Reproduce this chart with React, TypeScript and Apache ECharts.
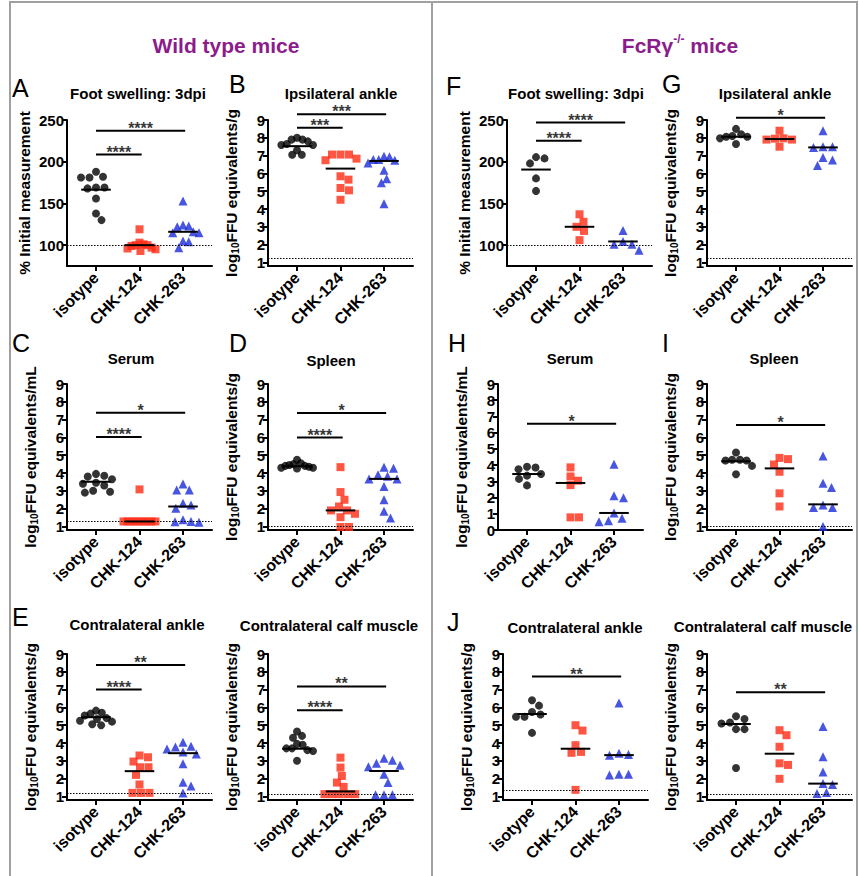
import React, { useEffect, useRef } from "react";
import * as echarts from "echarts";

const FONT = "'Liberation Sans', Arial, Helvetica, sans-serif";
const RED = "#ff2a14";
const BLUE = "#1a2ad8";
const PURPLE = "#8c1b8c";

const categories = ["isotype", "CHK-124", "CHK-263"];
const logTicks = [1, 2, 3, 4, 5, 6, 7, 8, 9];
const logTicksZero = [0, 1, 2, 3, 4, 5, 6, 7, 8, 9];
const pctTicks = [100, 150, 200, 250];

// ---- Wild type mice ----
// A: Foot swelling 3dpi (% initial)
const aIsotype = [188, 181, 181, 182, 169, 168, 169, 156, 138, 130];
const aChk124 = [119, 103, 101, 100, 100, 99, 97, 96, 95, 93];
const aChk263 = [153, 124, 123, 122, 116, 115, 115, 105, 104, 97];
const aMedians = [166.5, 100, 116];
const aSigY = [208.5, 237];
const aSigLabels = ["****", "****"];

// B: Ipsilateral ankle
const bIsotype = [8.0, 7.9, 7.8, 7.9, 7.6, 7.6, 7.65, 7.3, 7.05, 7.05];
const bChk124 = [7.06, 7.06, 7.06, 6.83, 6.74, 5.65, 5.84, 5.18, 5.05, 4.52];
const bChk263 = [6.93, 6.97, 6.78, 6.74, 6.78, 6.59, 6.18, 5.7, 5.48, 4.29];
const bMedians = [7.53, 6.27, 6.7];
const bSigY = [8.57, 9.32];
const bSigLabels = ["***", "***"];

// C: Serum
const cIsotype = [3.95, 3.8, 3.85, 3.65, 3.45, 3.4, 3.3, 3.0, 2.9, 2.95];
const cChk124 = [3.08, 1.28, 1.28, 1.28, 1.28, 1.28, 1.28, 1.28, 1.28, 1.28];
const cChk263 = [3.38, 3.05, 3.05, 2.21, 2.3, 2.02, 1.28, 1.24, 1.26, 1.37];
const cMedians = [3.51, 1.28, 2.12];
const cSigY = [6.02, 7.38];
const cSigLabels = ["****", "*"];

// D: Spleen
const dIsotype = [4.75, 4.55, 4.5, 4.45, 4.4, 4.4, 4.35, 4.3, 4.3, 4.25];
const dChk124 = [4.33, 2.93, 2.5, 2.12, 1.9, 1.9, 1.71, 1.52, 0.97, 0.97];
const dChk263 = [4.33, 4.27, 3.9, 3.82, 3.67, 3.67, 3.25, 2.5, 1.86, 1.47];
const dMedians = [4.38, 1.9, 3.67];
const dSigY = [5.99, 7.37];
const dSigLabels = ["****", "*"];

// E: Contralateral ankle
const eIsotype = [5.82, 5.65, 5.55, 5.7, 5.4, 5.35, 5.25, 5.2, 5.05, 5.0];
const eChk124 = [3.3, 3.2, 2.96, 2.64, 2.64, 2.21, 1.67, 1.2, 1.2, 1.2];
const eChk263 = [4.05, 3.77, 3.82, 3.67, 3.49, 3.39, 2.83, 1.8, 1.58, 1.2];
const eMedians = [5.45, 2.42, 3.43];
const eSigY = [7.0, 8.38];
const eSigLabels = ["****", "**"];

// E (right): Contralateral calf muscle
const e2Isotype = [4.65, 4.4, 4.3, 3.95, 3.9, 3.7, 3.7, 3.6, 3.55, 3.0];
const e2Chk124 = [3.18, 2.62, 2.15, 1.78, 1.54, 1.13, 1.13, 1.13, 1.13, 1.13];
const e2Chk263 = [3.14, 3.03, 2.86, 2.67, 2.75, 2.25, 1.78, 1.09, 1.09, 1.09];
const e2Medians = [3.68, 1.28, 2.43];
const e2SigY = [5.84, 7.18];
const e2SigLabels = ["****", "**"];

// ---- FcRγ-/- mice ----
const fIsotype = [205.5, 204, 198, 180, 165];
const fChk124 = [137, 128, 122, 117, 106];
const fChk263 = [117.6, 104.4, 101, 101, 94];
const fMedians = [190.6, 122, 104.4];
const fSigY = [225, 247];
const fSigLabels = ["****", "****"];

const gIsotype = [8.06, 8.1, 8.06, 8.2, 8.5, 7.97, 7.65];
const gChk124 = [8.4, 7.97, 7.95, 7.9, 7.9, 7.5];
const gChk263 = [8.4, 7.5, 7.45, 7.5, 6.9, 6.75, 6.45];
const gMedians = [8.06, 7.93, 7.46];
const gSigY = [9.13];
const gSigLabels = ["*"];

const hIsotype = [3.75, 3.45, 3.35, 3.9, 3.85, 3.15, 2.75];
const hChk124 = [3.3, 3.86, 3.04, 2.77, 0.78, 0.78];
const hChk263 = [4.05, 1.99, 2.11, 1.05, 0.72, 0.57, 0.51];
const hMedians = [3.45, 2.9, 1.05];
const hSigY = [6.55];
const hSigLabels = ["*"];

const iIsotype = [5.15, 4.75, 4.7, 4.75, 4.7, 4.4, 3.93];
const iChk124 = [4.78, 4.85, 4.48, 4.07, 2.86, 2.12];
const iChk263 = [4.95, 3.42, 3.18, 2.21, 2.07, 2.07, 1.0];
const iMedians = [4.66, 4.26, 2.24];
const iSigY = [6.7];
const iSigLabels = ["*"];

const jIsotype = [6.4, 6.1, 5.74, 5.6, 5.48, 5.48, 4.57];
const jChk124 = [5.0, 4.7, 3.88, 3.5, 3.45, 1.37];
const jChk263 = [6.25, 3.36, 3.32, 3.42, 2.25, 2.25, 2.2];
const jMedians = [5.63, 3.68, 3.32];
const jSigY = [7.73];
const jSigLabels = ["**"];

const j2Isotype = [5.15, 5.1, 5.35, 5.5, 4.78, 4.78, 2.6];
const j2Chk124 = [4.72, 4.44, 3.79, 2.86, 2.77, 1.99];
const j2Chk263 = [4.93, 3.23, 2.37, 1.67, 1.72, 1.22, 1.16];
const j2Medians = [5.07, 3.4, 1.72];
const j2SigY = [6.85];
const j2SigLabels = ["**"];

type Panel = {
  letter: string | null;
  letterPos: [number, number];
  title: string;
  titlePos: [number, number];
  yKind: "pct" | "g" | "ml";
  left: number;
  top: number;
  yMin: number;
  yMax: number;
  yTicks: number[];
  groups: number[][];
  medians: number[];
  lod: number | null;
  sigY: number[];
  sigLabels: string[];
  sigTo: number[];
};

const W = 145;
const H = 146;
const ROW1 = 120;
const ROW2 = 384;
const ROW3 = 654;

const panels: Panel[] = [
  { letter: "A", letterPos: [12, 88], title: "Foot swelling: 3dpi", titlePos: [138, 93], yKind: "pct", left: 67, top: ROW1, yMin: 75, yMax: 250, yTicks: pctTicks, groups: [aIsotype, aChk124, aChk263], medians: aMedians, lod: 100, sigY: aSigY, sigLabels: aSigLabels, sigTo: [1, 2] },
  { letter: "B", letterPos: [229, 84], title: "Ipsilateral ankle", titlePos: [341, 93], yKind: "g", left: 268, top: ROW1, yMin: 0.8, yMax: 9, yTicks: logTicks, groups: [bIsotype, bChk124, bChk263], medians: bMedians, lod: 1.24, sigY: bSigY, sigLabels: bSigLabels, sigTo: [1, 2] },
  { letter: "F", letterPos: [446, 86], title: "Foot swelling: 3dpi", titlePos: [576, 93], yKind: "pct", left: 507, top: ROW1, yMin: 75, yMax: 250, yTicks: pctTicks, groups: [fIsotype, fChk124, fChk263], medians: fMedians, lod: 100, sigY: fSigY, sigLabels: fSigLabels, sigTo: [1, 2] },
  { letter: "G", letterPos: [662, 84], title: "Ipsilateral ankle", titlePos: [775, 93], yKind: "g", left: 707, top: ROW1, yMin: 0.8, yMax: 9, yTicks: logTicks, groups: [gIsotype, gChk124, gChk263], medians: gMedians, lod: 1.24, sigY: gSigY, sigLabels: gSigLabels, sigTo: [2] },
  { letter: "C", letterPos: [12, 343], title: "Serum", titlePos: [131, 358], yKind: "ml", left: 67, top: ROW2, yMin: 0.8, yMax: 9, yTicks: logTicks, groups: [cIsotype, cChk124, cChk263], medians: cMedians, lod: 1.28, sigY: cSigY, sigLabels: cSigLabels, sigTo: [1, 2] },
  { letter: "D", letterPos: [229, 343], title: "Spleen", titlePos: [331, 360], yKind: "g", left: 268, top: ROW2, yMin: 0.8, yMax: 9, yTicks: logTicks, groups: [dIsotype, dChk124, dChk263], medians: dMedians, lod: 1.0, sigY: dSigY, sigLabels: dSigLabels, sigTo: [1, 2] },
  { letter: "H", letterPos: [448, 343], title: "Serum", titlePos: [570, 358], yKind: "ml", left: 498, top: ROW2, yMin: 0, yMax: 9, yTicks: logTicksZero, groups: [hIsotype, hChk124, hChk263], medians: hMedians, lod: null, sigY: hSigY, sigLabels: hSigLabels, sigTo: [2] },
  { letter: "I", letterPos: [662, 343], title: "Spleen", titlePos: [774, 358], yKind: "g", left: 707, top: ROW2, yMin: 0.8, yMax: 9, yTicks: logTicks, groups: [iIsotype, iChk124, iChk263], medians: iMedians, lod: 1.0, sigY: iSigY, sigLabels: iSigLabels, sigTo: [2] },
  { letter: "E", letterPos: [12, 617], title: "Contralateral ankle", titlePos: [137, 624], yKind: "g", left: 67, top: ROW3, yMin: 0.8, yMax: 9, yTicks: logTicks, groups: [eIsotype, eChk124, eChk263], medians: eMedians, lod: 1.2, sigY: eSigY, sigLabels: eSigLabels, sigTo: [1, 2] },
  { letter: null, letterPos: [0, 0], title: "Contralateral calf muscle", titlePos: [329, 625], yKind: "g", left: 268, top: ROW3, yMin: 0.8, yMax: 9, yTicks: logTicks, groups: [e2Isotype, e2Chk124, e2Chk263], medians: e2Medians, lod: 1.13, sigY: e2SigY, sigLabels: e2SigLabels, sigTo: [1, 2] },
  { letter: "J", letterPos: [447, 622], title: "Contralateral ankle", titlePos: [575, 627], yKind: "g", left: 503, top: ROW3, yMin: 0.8, yMax: 9, yTicks: logTicks, groups: [jIsotype, jChk124, jChk263], medians: jMedians, lod: 1.32, sigY: jSigY, sigLabels: jSigLabels, sigTo: [2] },
  { letter: null, letterPos: [0, 0], title: "Contralateral calf muscle", titlePos: [763, 626], yKind: "g", left: 707, top: ROW3, yMin: 0.8, yMax: 9, yTicks: logTicks, groups: [j2Isotype, j2Chk124, j2Chk263], medians: j2Medians, lod: 1.13, sigY: j2SigY, sigLabels: j2SigLabels, sigTo: [2] },
];

const X_MIN = -0.667;
const X_MAX = 2.667;

function swarm(values: number[], pxPerUnit: number, pxPerCat: number, d: number, cap: number): number[] {
  const order = values.map((_, i) => i).sort((a, b) => values[b] - values[a]);
  const placed: { x: number; y: number }[] = [];
  const offs: number[] = new Array(values.length).fill(0);
  for (const i of order) {
    const y = values[i] * pxPerUnit;
    let best = 0;
    for (let k = 0; k < 200; k++) {
      const cand = k === 0 ? 0 : (k % 2 ? 1 : -1) * Math.ceil(k / 2) * 0.5;
      if (placed.every((p) => Math.hypot(p.x - cand, p.y - y) >= d)) {
        best = cand;
        break;
      }
    }
    placed.push({ x: best, y });
    offs[i] = best;
  }
  const m = Math.max(...offs.map((o) => Math.abs(o)));
  const s = m > cap ? cap / m : 1;
  return offs.map((o) => (o * s) / pxPerCat);
}

const yNames: Record<string, string> = {
  pct: "% Initial measurement",
  g: "log{sub|10}FFU equivalents/g",
  ml: "log{sub|10}FFU equivalents/mL",
};

const groupStyle = [
  { symbol: "circle", size: 8, color: "#000" },
  { symbol: "rect", size: 8, color: RED },
  { symbol: "triangle", size: 9, color: BLUE },
];

function buildOption() {
  const grid: any[] = [];
  const xAxis: any[] = [];
  const yAxis: any[] = [];
  const series: any[] = [];
  const graphic: any[] = [];
  const axisLineStyle = { color: "#000", width: 2 };

  panels.forEach((p, i) => {
    grid.push({ left: p.left, top: p.top, width: W, height: H, outerBoundsMode: "none" });
    xAxis.push({
      type: "value",
      gridIndex: i,
      min: X_MIN,
      max: X_MAX,
      axisLine: { show: true, onZero: false, lineStyle: axisLineStyle },
      axisTick: { show: true, customValues: [0, 1, 2], length: 5, lineStyle: axisLineStyle },
      axisLabel: {
        customValues: [0, 1, 2],
        formatter: (v: number) => categories[Math.round(v)],
        rotate: 45,
        fontSize: 16,
        fontWeight: "bold",
        color: "#000",
        fontFamily: FONT,
        margin: 9,
      },
      splitLine: { show: false },
    });
    yAxis.push({
      type: "value",
      gridIndex: i,
      min: p.yMin,
      max: p.yMax,
      axisLine: { show: true, onZero: false, lineStyle: axisLineStyle },
      axisTick: { show: true, customValues: p.yTicks, length: 5, lineStyle: axisLineStyle },
      axisLabel: {
        customValues: p.yTicks,
        fontSize: 15,
        fontWeight: "bold",
        color: "#000",
        fontFamily: FONT,
        margin: 3,
      },
      splitLine: { show: false },
      name: yNames[p.yKind],
      nameLocation: "middle",
      nameRotate: 90,
      nameGap: p.yKind === "pct" ? 35 : 28,
      nameTextStyle: {
        fontSize: 15.5,
        fontWeight: "bold",
        color: "#000",
        fontFamily: FONT,
        rich: {
          sub: { fontSize: 10, fontWeight: "bold", fontFamily: FONT, color: "#000", verticalAlign: "bottom", padding: [7, 0, 0, 0] },
        },
      },
    });

    const pxPerUnit = H / (p.yMax - p.yMin);
    const pxPerCat = W / (X_MAX - X_MIN);

    p.groups.forEach((vals, g) => {
      const offs = swarm(vals, pxPerUnit, pxPerCat, groupStyle[g].size + 0.5, 16);
      const s: any = {
        type: "scatter",
        xAxisIndex: i,
        yAxisIndex: i,
        symbol: groupStyle[g].symbol,
        symbolSize: groupStyle[g].size,
        itemStyle: { color: groupStyle[g].color },
        data: vals.map((v, k) => [g + offs[k], v]),
        clip: false,
        z: 2,
      };
      if (g === 0 && p.lod !== null) {
        s.markLine = {
          silent: true,
          symbol: ["none", "none"],
          label: { show: false },
          lineStyle: { type: [1.5, 1.5], color: "#000", width: 1.2 },
          data: [{ yAxis: p.lod }],
        };
      }
      series.push(s);
      series.push({
        type: "line",
        xAxisIndex: i,
        yAxisIndex: i,
        data: [
          [g - 0.34, p.medians[g]],
          [g + 0.34, p.medians[g]],
        ],
        symbol: "none",
        lineStyle: { color: "#000", width: 2 },
        z: 3,
      });
    });

    p.sigY.forEach((y, k) => {
      const x1 = p.sigTo[k] + 0.05;
      series.push({
        type: "line",
        xAxisIndex: i,
        yAxisIndex: i,
        data: [
          [0, y],
          [x1, y],
        ],
        symbol: "none",
        clip: false,
        lineStyle: { color: "#000", width: 2 },
      });
      series.push({
        type: "scatter",
        xAxisIndex: i,
        yAxisIndex: i,
        data: [[x1 / 2, y]],
        symbolSize: 1,
        itemStyle: { color: "rgba(0,0,0,0)" },
        clip: false,
        label: {
          show: true,
          position: "top",
          distance: 0,
          offset: [0, 6],
          formatter: p.sigLabels[k],
          fontSize: 16,
          fontWeight: "bold",
          color: "#000",
          fontFamily: FONT,
        },
      });
    });

    if (p.letter) {
      graphic.push({
        type: "text",
        x: p.letterPos[0],
        y: p.letterPos[1],
        style: { text: p.letter, font: `25px ${FONT}`, fill: "#000", verticalAlign: "middle", align: "left" },
      });
    }
    graphic.push({
      type: "text",
      x: p.titlePos[0],
      y: p.titlePos[1],
      style: { text: p.title, font: `bold 15px ${FONT}`, fill: "#000", verticalAlign: "middle", align: "center" },
    });
  });

  graphic.push({
    type: "text",
    x: 226,
    y: 45,
    style: { text: "Wild type mice", font: `bold 21px ${FONT}`, fill: PURPLE, verticalAlign: "middle", align: "center" },
  });
  graphic.push({
    type: "text",
    x: 680,
    y: 45,
    style: {
      text: "{b|FcRγ}{sup|-/-}{b| mice}",
      align: "center",
      verticalAlign: "middle",
      rich: {
        b: { font: `bold 21px ${FONT}`, fill: PURPLE, color: PURPLE, lineHeight: 24 },
        sup: { font: `bold 12px ${FONT}`, fill: PURPLE, color: PURPLE, verticalAlign: "top", lineHeight: 24, padding: [0, 0, 8, 0] },
      },
    },
  });

  const frame = { stroke: "#a0a0a0", lineWidth: 2 };
  graphic.push({ type: "line", shape: { x1: 9, y1: 2, x2: 858, y2: 2 }, style: frame });
  graphic.push({ type: "line", shape: { x1: 10, y1: 2, x2: 10, y2: 876 }, style: frame });
  graphic.push({ type: "line", shape: { x1: 432, y1: 2, x2: 432, y2: 876 }, style: frame });
  graphic.push({ type: "line", shape: { x1: 857, y1: 2, x2: 857, y2: 876 }, style: frame });

  return {
    animation: false,
    backgroundColor: "#fff",
    grid,
    xAxis,
    yAxis,
    series,
    graphic,
  };
}

export default function App() {
  const ref = useRef<HTMLDivElement>(null);
  useEffect(() => {
    if (!ref.current) return;
    const chart = echarts.init(ref.current, null, { renderer: "svg" });
    chart.setOption(buildOption() as any);
    return () => chart.dispose();
  }, []);
  return (
    <div
      ref={ref}
      style={{ position: "absolute", left: 0, top: 0, width: 859, height: 876 }}
    />
  );
}
